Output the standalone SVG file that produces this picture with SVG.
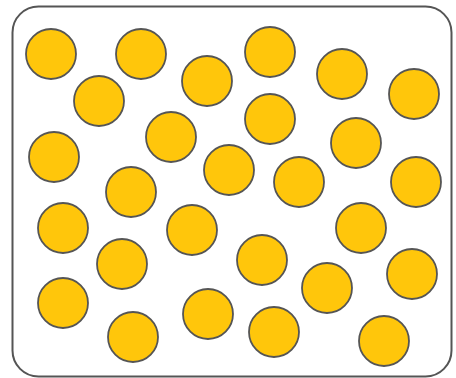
<svg xmlns="http://www.w3.org/2000/svg" width="456" height="378" viewBox="0 0 456 378">
<style>
.box{fill:#fff;stroke:#555;stroke-width:2}
.p{fill:#FFC60B;stroke:#555;stroke-width:1.8}
</style>
<rect width="456" height="378" fill="#fff"/>
<rect class="box" x="12.5" y="6.5" width="439" height="370" rx="26" ry="26"/>
<g id="particles">
<circle class="p" cx="51" cy="54" r="25"/>
<circle class="p" cx="141" cy="54" r="25"/>
<circle class="p" cx="270" cy="52" r="25"/>
<circle class="p" cx="342" cy="74" r="25"/>
<circle class="p" cx="414" cy="94" r="25"/>
<circle class="p" cx="207" cy="81" r="25"/>
<circle class="p" cx="99" cy="101" r="25"/>
<circle class="p" cx="270" cy="119" r="25"/>
<circle class="p" cx="171" cy="137" r="25"/>
<circle class="p" cx="356" cy="143" r="25"/>
<circle class="p" cx="54" cy="157" r="25"/>
<circle class="p" cx="229" cy="170" r="25"/>
<circle class="p" cx="299" cy="182" r="25"/>
<circle class="p" cx="416" cy="182" r="25"/>
<circle class="p" cx="131" cy="192" r="25"/>
<circle class="p" cx="63" cy="228" r="25"/>
<circle class="p" cx="192" cy="230" r="25"/>
<circle class="p" cx="361" cy="228" r="25"/>
<circle class="p" cx="122" cy="264" r="25"/>
<circle class="p" cx="262" cy="260" r="25"/>
<circle class="p" cx="412" cy="274" r="25"/>
<circle class="p" cx="327" cy="288" r="25"/>
<circle class="p" cx="63" cy="303" r="25"/>
<circle class="p" cx="208" cy="314" r="25"/>
<circle class="p" cx="133" cy="337" r="25"/>
<circle class="p" cx="274" cy="332" r="25"/>
<circle class="p" cx="384" cy="341" r="25"/>
</g>
</svg>
